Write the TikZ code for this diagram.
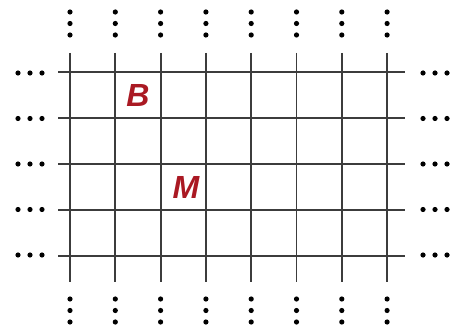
\documentclass[tikz,border=0pt]{standalone}
\usepackage{fontspec}
\setmainfont{Liberation Sans}
\usepackage{xcolor}
\usepackage{tikz}
\usetikzlibrary{positioning}

\definecolor{gridline}{RGB}{60,60,60}
\definecolor{labelred}{RGB}{170,25,35}

\begin{document}
\begin{tikzpicture}[x=1pt, y=-1pt,
    gridrule/.style={draw=gridline, line width=1.8pt},
    dotmark/.style={fill=black},
    cellname/.style={text=labelred, font=\fontsize{32}{32}\selectfont\bfseries\itshape, inner sep=0pt}]
    \useasboundingbox (0,0) rectangle (452,331);

    % grid lines
    \foreach \i in {0,...,7}
        \draw [gridrule] ({70+45.3*\i},53) -- ({70+45.3*\i},282);
    \foreach \j in {0,...,4}
        \draw [gridrule] (58,{72+46*\j}) -- (405,{72+46*\j});

    % continuation dots, above and below
    \foreach \i in {0,...,7} {
        \foreach \d in {0,1,2} {
            \fill [dotmark] ({70+45.3*\i},{12+11.5*\d}) circle (2.6pt);
            \fill [dotmark] ({70+45.3*\i},{299+11.5*\d}) circle (2.6pt);
        }
    }
    % continuation dots, left and right
    \foreach \j in {0,...,4} {
        \foreach \d in {0,1,2} {
            \fill [dotmark] ({18+12*\d},{73+45.5*\j}) circle (2.6pt);
            \fill [dotmark] ({423+12*\d},{73+45.5*\j}) circle (2.6pt);
        }
    }

    % labels
    \node (cellB) [cellname] at (138,95) {B};
    \node (cellM) [cellname] at (186,187) {M};
\end{tikzpicture}
\end{document}
